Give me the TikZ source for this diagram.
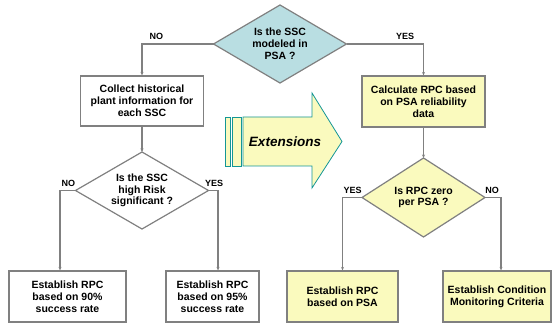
\documentclass[tikz,border=0pt]{standalone}
\usepackage{fontspec}
\setmainfont{Liberation Sans}
\usepackage{tikz}
\usetikzlibrary{positioning, shapes.geometric, arrows.meta}
\definecolor{diablue}{RGB}{185,222,226}
\definecolor{boxyellow}{RGB}{250,250,190}
\definecolor{linegray}{RGB}{128,128,128}
\definecolor{extteal}{RGB}{20,150,150}
\tikzset{box node/.style={rectangle, draw=linegray, line width=1.2pt, fill=white, align=center, inner sep=2pt, font=\fontsize{10.5}{11.8}\selectfont\bfseries},
decision node/.style={diamond, draw=linegray, line width=1.2pt, aspect=1.7, inner sep=0pt, outer sep=0pt, align=center, font=\fontsize{10.5}{11.8}\selectfont\bfseries},
label node/.style={above=1.5pt, inner sep=2pt, font=\fontsize{9}{10}\selectfont\bfseries},
link/.style={draw=linegray, line width=1.1pt, -{Stealth[length=3.5pt,width=3pt]}},}

\begin{document}
\begin{tikzpicture}[x=1pt, y=1pt, on grid]
        \useasboundingbox (0,0) rectangle (553,324);
        % Questions
        \node[decision node, fill=diablue, minimum width=133pt, minimum height=78pt] (modeled) at (280,280) {Is the SSC\\modeled in\\PSA ?};
        \node[box node, minimum width=123pt, minimum height=50pt] [below left = 57pt and 138pt of modeled] (collect) {Collect historical\\plant information for\\each SSC};
        \node[box node, fill=boxyellow, minimum width=123pt, minimum height=51pt] [below right = 57.5pt and 143.5pt of modeled] (calc) {Calculate RPC based\\on PSA reliability\\data};
        \node[decision node, fill=white, minimum width=133pt, minimum height=77pt] [below = 89.5pt of collect] (risk) {Is the SSC\\high Risk\\significant ?};
        \node[decision node, fill=boxyellow, minimum width=123pt, minimum height=79pt] [below = 96pt of calc] (zero) {Is RPC zero\\per PSA ?};
        % Results
        \node[box node, minimum width=117pt, minimum height=51pt] [below left = 106pt and 74.5pt of risk] (rate90) {Establish RPC\\based on 90\%\\success rate};
        \node[box node, minimum width=93pt, minimum height=51pt] [below right = 106pt and 70.5pt of risk] (rate95) {Establish RPC\\based on 95\%\\success rate};
        \node[box node, fill=boxyellow, minimum width=111pt, minimum height=51pt] [below left = 99pt and 81pt of zero] (psa) {Establish RPC\\based on PSA};
        \node[box node, fill=boxyellow, minimum width=108pt, minimum height=51pt] [below right = 99pt and 73.5pt of zero] (monitor) {Establish Condition\\Monitoring Criteria};
        % Extensions arrow
        \filldraw[draw=extteal, fill=boxyellow, line width=0.8pt] (225,207) rectangle (230,158);
        \filldraw[draw=extteal, fill=boxyellow, line width=0.8pt] (232,207) rectangle (241,158);
        \filldraw[draw=extteal, fill=boxyellow, line width=0.8pt] (243,207) -- (312,207) -- (312,231) -- (342,182.5) -- (312,136) -- (312,158) -- (243,158) -- cycle;
        \node[font=\fontsize{13.5}{15}\selectfont\bfseries\itshape] (ext) at (285,182.5) {Extensions};
        % Paths
        \draw[link] (modeled.west) -| node[label node, pos=0.4] {NO} (collect.north);
        \draw[link] (modeled.east) -| node[label node, pos=0.38] {YES} (calc.north);
        \draw[link] (collect.south) -- (risk.north);
        \draw[link] (calc.south) -- (zero.north);
        \draw[link] (risk.west) -| node[label node, pos=0.23] {NO} ([xshift=-7.5pt]rate90.north);
        \draw[link] (risk.east) -| node[label node, pos=0.3] {YES} ([xshift=5.5pt]rate95.north);
        \draw[link] (zero.west) -| node[label node, pos=0.24] {YES} (psa.north);
        \draw[link] (zero.east) -| node[label node, pos=0.22] {NO} ([xshift=4pt]monitor.north);
    \end{tikzpicture}
\end{document}
